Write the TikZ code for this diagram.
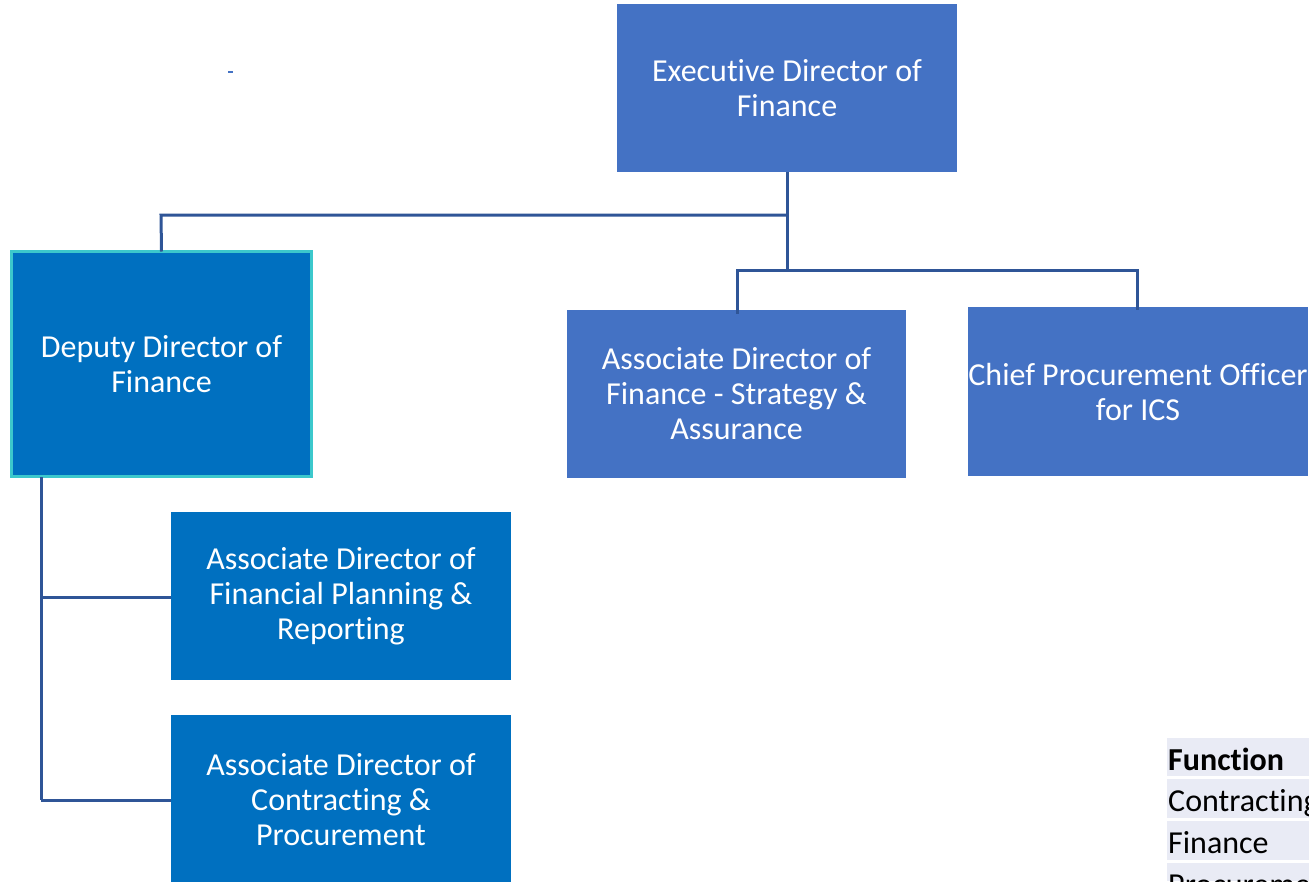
\documentclass[tikz,border=0pt]{standalone}
\usepackage{fontspec}
\setmainfont[Ligatures=NoCommon]{Carlito}
\definecolor{accblue}{HTML}{4472C4}
\definecolor{deepblue}{HTML}{0070C0}
\definecolor{turq}{HTML}{3CC8CC}
\definecolor{linkblue}{HTML}{2F5597}
\definecolor{rowbg}{HTML}{E9EBF5}
\begin{document}
\begin{tikzpicture}[x=1pt,y=-1pt,
  box/.style={draw=none, fill=accblue, text=white, align=center, inner sep=0pt, outer sep=0pt,
    font=\fontsize{32}{35}\selectfont},
  deepbox/.style={box, fill=deepblue},
  link/.style={draw=linkblue, line width=3pt},
  rowtext/.style={anchor=base west, inner sep=0pt, text=black, font=\fontsize{32}{35}\selectfont}]
\useasboundingbox (0,0) rectangle (1309,881);
\clip (0,0) rectangle (1309,881);
\fill[white] (0,0) rectangle (1309,881);

\node[box, minimum width=340pt, minimum height=168pt] (exec) at (787,88) {Executive Director of\\Finance};
\node[deepbox, draw=turq, line width=2.5pt, minimum width=300pt, minimum height=225pt] (dep) at (161.5,364) {Deputy Director of\\Finance};
\node[box, minimum width=339pt, minimum height=168pt] (strat) at (736.5,394) {Associate Director of\\Finance - Strategy \&\\Assurance};
\node[box, minimum width=340pt, minimum height=169pt] (chief) at (1138,391.5) {Chief Procurement Officer\\for ICS};
\node[deepbox, minimum width=340pt, minimum height=168pt] (fpr) at (341,596) {Associate Director of\\Financial Planning \&\\Reporting};
\node[deepbox, minimum width=340pt, minimum height=170pt] (cp) at (341,800) {Associate Director of\\Contracting \&\\Procurement};

\coordinate (j1) at (787,215);
\coordinate (j2) at (787,270);
\coordinate (dtop) at (161,215);
\coordinate (sj) at (737,270);
\coordinate (cj) at (1137,270);
\coordinate (dv) at (41,477);
\coordinate (d1) at (41,597);
\coordinate (d2) at (41,800);

\draw[link] (exec.south) -- (j2);
\draw[link] (j1) -- (dtop) -- (dep.north);
\draw[link, line cap=rect] (sj) -- (cj);
\draw[link] (sj) -- ([yshift=-4pt]strat.north -| sj);
\draw[link] (cj) -- ([yshift=-3pt]chief.north -| cj);
\draw[link] (dv) -- (d2);
\draw[link] (d1) -- (fpr.west |- d1);
\draw[link] (d2) -- (cp.west |- d2);

\draw[accblue, line width=1.6pt] (228,72) -- (233,72);

\fill[rowbg] (1167,738) rectangle (1309,776);
\fill[rowbg] (1167,779) rectangle (1309,818);
\fill[rowbg] (1167,821) rectangle (1309,860);
\fill[rowbg] (1167,863) rectangle (1309,881);
\node[rowtext, font=\fontsize{32}{35}\selectfont\bfseries] (h) at (1168,770) {Function};
\node[rowtext] (r1) at (1168,811) {Contracting};
\node[rowtext] (r2) at (1168,853) {Finance};
\node[rowtext] (r3) at (1168,895) {Procurement};
\end{tikzpicture}
\end{document}
